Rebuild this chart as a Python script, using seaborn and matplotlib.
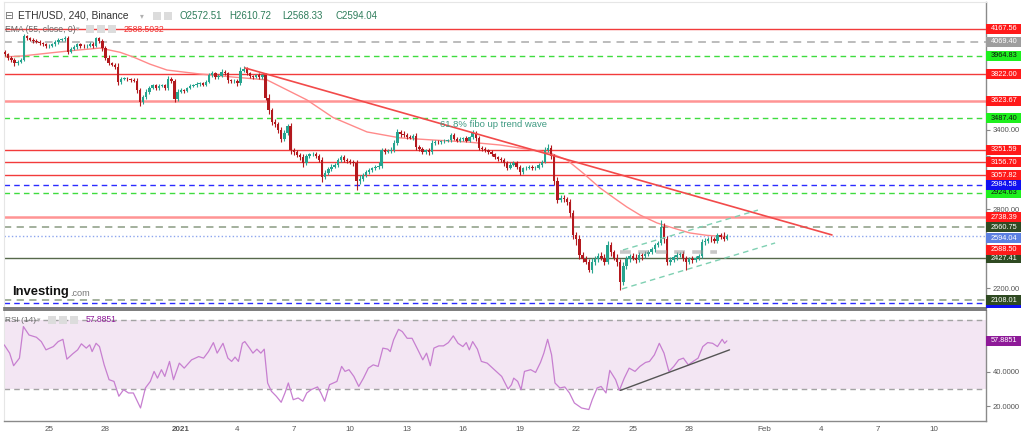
import matplotlib
matplotlib.use("Agg")
import matplotlib.pyplot as plt
from matplotlib.patches import Rectangle
import numpy as np
import seaborn as sns

# ---------------- data ----------------
# 4-hour ETH/USD candles, first candle = Dec 22 16:00 (day -2.333 relative to Dec 25 00:00)
first_candle_day = -2.3333
candle_step_day = 4 / 24
open_first = 3990
close_usd = [
    3975, 3950,                               # Dec 22
    3930, 3905, 3920, 3935, 4110, 4095,       # Dec 23
    4085, 4075, 4070, 4060, 4050, 4035,       # Dec 24
    4040, 4050, 4070, 4085, 4090, 4095,       # Dec 25
    3995, 4015, 4030, 4050, 4040, 4035,       # Dec 26
    4040, 4055, 4040, 4095, 4075, 4020,       # Dec 27
    3950, 3905, 3895, 3880, 3765, 3790,       # Dec 28
    3790, 3785, 3780, 3775, 3700, 3615,       # Dec 29
    3650, 3690, 3720, 3740, 3715, 3735,       # Dec 30
    3740, 3715, 3790, 3775, 3635, 3690,       # Dec 31
    3700, 3695, 3720, 3735, 3740, 3750,       # Jan 1
    3755, 3745, 3765, 3815, 3830, 3800,       # Jan 2
    3810, 3840, 3830, 3780, 3770, 3775,       # Jan 3
    3755, 3850, 3865, 3830, 3810, 3805,       # Jan 4
    3815, 3800, 3815, 3645, 3550, 3460,       # Jan 5
    3445, 3400, 3330, 3380, 3430, 3245,       # Jan 6
    3230, 3210, 3195, 3150, 3200, 3215,       # Jan 7
    3220, 3200, 3175, 3045, 3070, 3100,       # Jan 8
    3120, 3135, 3170, 3195, 3175, 3165,       # Jan 9
    3160, 3150, 3010, 3030, 3055, 3080,       # Jan 10
    3095, 3110, 3120, 3130, 3245, 3235,       # Jan 11
    3240, 3250, 3300, 3385, 3370, 3360,       # Jan 12
    3345, 3340, 3355, 3270, 3255, 3235,       # Jan 13
    3245, 3230, 3300, 3310, 3305, 3315,       # Jan 14
    3320, 3325, 3360, 3335, 3320, 3330,       # Jan 15
    3340, 3320, 3345, 3375, 3340, 3265,       # Jan 16
    3255, 3245, 3230, 3215, 3195, 3180,       # Jan 17
    3170, 3150, 3115, 3135, 3150, 3120,       # Jan 18
    3080, 3110, 3115, 3120, 3110, 3115,       # Jan 19
    3135, 3160, 3250, 3265, 3200, 3010,       # Jan 20
    2870, 2885, 2875, 2850, 2770, 2600,       # Jan 21
    2570, 2450, 2420, 2400, 2340, 2395,       # Jan 22
    2420, 2445, 2430, 2400, 2525, 2470,       # Jan 23
    2430, 2400, 2245, 2370, 2420, 2445,       # Jan 24
    2430, 2415, 2450, 2440, 2460, 2470,       # Jan 25
    2495, 2525, 2545, 2665, 2570, 2395,       # Jan 26
    2415, 2435, 2450, 2460, 2425, 2400,       # Jan 27
    2420, 2410, 2430, 2440, 2550, 2560,       # Jan 28
    2575, 2570, 2560, 2600, 2590, 2572.51,    # Jan 29
    2594.04,                                  # Jan 30
]
wick_up = [
    15, 12,
    12, 15, 10, 12, 20, 15,
    12, 10, 15, 12, 10, 12,
    10, 12, 15, 10, 12, 15,
    20, 15, 12, 10, 12, 10,
    12, 15, 10, 12, 10, 15,
    15, 20, 12, 10, 25, 15,
    10, 12, 10, 15, 20, 15,
    15, 20, 15, 12, 10, 15,
    12, 10, 20, 15, 15, 20,
    15, 12, 10, 12, 10, 15,
    10, 12, 15, 20, 15, 12,
    12, 20, 15, 12, 10, 15,
    15, 25, 20, 15, 12, 10,
    12, 15, 12, 15, 25, 20,
    20, 15, 25, 20, 15, 20,
    15, 20, 15, 20, 15, 12,
    15, 12, 15, 20, 25, 20,
    20, 15, 20, 15, 12, 15,
    12, 15, 20, 25, 20, 15,
    15, 12, 15, 25, 20, 15,
    15, 20, 25, 20, 15, 20,
    15, 20, 15, 20, 15, 12,
    12, 15, 25, 15, 12, 10,
    12, 10, 20, 15, 12, 15,
    10, 15, 12, 25, 15, 12,
    15, 12, 10, 15, 12, 10,
    12, 15, 12, 20, 15, 12,
    15, 12, 10, 12, 15, 10,
    12, 15, 20, 25, 20, 20,
    30, 25, 20, 15, 25, 20,
    25, 30, 20, 25, 20, 30,
    25, 20, 25, 30, 30, 25,
    20, 25, 20, 25, 20, 15,
    20, 25, 20, 15, 20, 15,
    15, 20, 15, 50, 30, 25,
    20, 15, 20, 15, 20, 15,
    15, 20, 15, 20, 25, 20,
    15, 20, 15, 20, 15, 38,
    16.68,
]
wick_down = [
    12, 15,
    15, 20, 12, 10, 10, 12,
    10, 12, 10, 15, 12, 10,
    12, 10, 12, 15, 10, 12,
    15, 12, 10, 12, 15, 12,
    12, 10, 15, 12, 15, 20,
    20, 15, 12, 15, 20, 15,
    12, 10, 15, 12, 20, 35,
    15, 12, 15, 10, 15, 12,
    12, 15, 12, 15, 20, 15,
    12, 15, 10, 12, 10, 12,
    15, 12, 10, 12, 15, 12,
    12, 10, 12, 20, 15, 12,
    20, 15, 12, 15, 12, 15,
    12, 15, 12, 20, 25, 20,
    20, 25, 20, 15, 20, 25,
    20, 15, 20, 30, 15, 12,
    15, 12, 20, 40, 20, 15,
    15, 12, 15, 12, 15, 12,
    15, 20, 65, 20, 15, 12,
    12, 15, 12, 15, 20, 15,
    12, 15, 20, 15, 20, 15,
    15, 12, 15, 20, 15, 20,
    15, 20, 15, 12, 15, 12,
    15, 12, 15, 12, 15, 12,
    12, 15, 12, 15, 20, 15,
    15, 12, 15, 12, 15, 15,
    15, 20, 20, 15, 12, 15,
    25, 15, 12, 15, 12, 15,
    12, 15, 12, 15, 20, 25,
    25, 20, 25, 20, 30, 30,
    40, 30, 25, 20, 20, 25,
    20, 25, 20, 25, 20, 25,
    20, 30, 60, 20, 25, 20,
    20, 25, 20, 25, 15, 20,
    15, 20, 15, 20, 25, 20,
    20, 15, 20, 15, 20, 60,
    15, 20, 15, 20, 15, 20,
    15, 20, 15, 20, 15, 15,
    4.18,
]

# EMA(55)
ema_day = [-2.33, -1.43, 0.05, 1.38, 2.71, 3.77, 4.46, 5.36, 6.27, 8.02, 9.77, 11.58,
           12.64, 13.70, 15.08, 16.89, 18.64, 20.39, 22.20, 23.95, 25.70, 26.61, 27.51,
           28.36, 29.26, 30.16, 30.69, 31.39, 32.29, 33.14, 34.04, 34.94, 36.00]
ema_usd = [3955, 3962, 3985, 4005, 4022, 3990, 3955, 3900, 3855, 3825, 3802, 3780,
           3704, 3628, 3495, 3385, 3340, 3324, 3309, 3286, 3248, 3225, 3172,
           3073, 2960, 2868, 2815, 2754, 2694, 2656, 2618, 2600, 2590]
ema_last = 2588.50
ema_legend = "2588.5032"

# RSI(14)
rsi_day = [-2.38, -2.09, -1.88, -1.57, -1.36, -1.06, -0.67, -0.41, -0.16, 0.23,
           0.49, 0.74, 0.95, 1.26, 1.52, 1.72, 1.98, 2.16, 2.29, 2.50,
           2.68, 2.93, 3.19, 3.45, 3.71, 3.96, 4.22, 4.48, 4.86, 5.12,
           5.38, 5.58, 5.76, 5.97, 6.15, 6.40, 6.61, 6.92, 7.18, 7.57,
           7.95, 8.21, 8.47, 8.73, 8.93, 9.24, 9.50, 9.70, 9.88, 10.06,
           10.27, 10.40, 10.65, 10.83, 11.04, 11.25, 11.43, 11.61, 11.81, 12.07,
           12.33, 12.53, 12.71, 12.97, 13.23, 13.48, 13.69, 13.92, 14.26, 14.44,
           14.64, 14.90, 15.29, 15.54, 15.72, 15.93, 16.19, 16.45, 16.70, 16.96,
           17.22, 17.48, 17.73, 17.99, 18.12, 18.30, 18.56, 18.76, 19.02, 19.28,
           19.59, 19.85, 20.05, 20.25, 20.44, 20.70, 20.95, 21.21, 21.47, 21.72,
           21.98, 22.16, 22.32, 22.50, 22.75, 22.96, 23.27, 23.65, 24.04, 24.38,
           24.56, 24.68, 24.89, 25.07, 25.25, 25.58, 25.84, 26.10, 26.28, 26.48,
           26.69, 26.87, 27.13, 27.39, 27.64, 27.90, 28.28, 28.67, 28.85, 29.11,
           29.32, 29.58, 29.78, 30.09, 30.29, 30.55, 30.81, 31.12, 31.38, 31.68,
           31.89, 32.15, 32.41, 32.66, 32.92, 33.18, 33.44, 33.69, 33.95, 34.21,
           34.47, 34.72, 34.98, 35.24, 35.50, 35.75, 35.88, 36.00]
rsi_val = [55.6, 50.8, 43.5, 47.9, 66.2, 61.3, 60.0, 57.5, 52.7, 54.6,
           57.5, 58.8, 47.3, 50.4, 52.7, 56.2, 53.7, 55.6, 51.7, 56.5,
           54.6, 44.0, 35.4, 34.4, 25.8, 29.6, 27.7, 27.7, 19.0, 30.6,
           34.4, 40.2, 36.3, 41.2, 37.3, 46.0, 35.4, 45.0, 42.1, 46.9,
           48.8, 47.9, 51.7, 56.9, 50.8, 56.5, 47.9, 46.0, 48.5, 46.0,
           56.5, 57.5, 53.7, 50.8, 53.1, 50.8, 53.1, 33.5, 28.7, 25.8,
           22.3, 27.7, 33.5, 23.8, 24.8, 22.9, 27.7, 29.6, 31.2, 27.7,
           22.9, 32.5, 34.4, 43.1, 40.2, 41.2, 37.3, 31.5, 36.3, 42.1,
           44.0, 43.1, 53.7, 53.1, 51.7, 58.5, 64.6, 63.3, 59.4, 59.4,
           52.7, 46.9, 50.8, 43.5, 53.7, 55.0, 55.0, 56.9, 60.8, 56.5,
           54.6, 56.9, 52.7, 57.5, 53.1, 46.0, 45.0, 41.2, 37.3, 30.0,
           32.5, 36.3, 34.4, 29.6, 40.2, 41.2, 39.6, 45.4, 50.8, 58.8,
           49.8, 33.5, 30.6, 31.2, 27.7, 21.9, 19.0, 18.1, 23.8, 30.6,
           31.5, 27.7, 40.8, 35.4, 29.2, 36.3, 42.1, 40.2, 43.1, 45.4,
           46.0, 49.8, 56.5, 50.8, 40.2, 43.1, 46.9, 47.9, 44.0, 46.0,
           47.9, 54.6, 56.9, 56.5, 54.6, 58.8, 56.5, 57.89]
rsi_last = 57.8851
rsi_trend_day = [30.35, 36.14]
rsi_trend_val = [29.2, 52.7]

# horizontal levels
level_prices = [4167.56, 4069.40, 3964.83, 3822.00, 3623.67, 3487.40, 3251.59, 3156.70,
                3057.82, 2984.58, 2924.63, 2738.39, 2660.75, 2594.04, 2427.41, 2108.01, 2088.00]
level_kinds = ["res", "grey", "fib", "res", "res_wide", "fib", "res", "res",
               "res", "blue", "fib", "res_wide", "olive_dash", "last", "olive", "olive_dash", "blue"]

# drawn lines
trend_day = [10.41, 41.58]
trend_usd = [3871, 2603]
chan_up_day = [30.48, 37.65]
chan_up_usd = [2489, 2792]
chan_lo_day = [30.43, 38.56]
chan_lo_usd = [2193, 2542]
mark_day = [30.32, 35.48]
mark_usd = [2473, 2473]
note_text = "61.8% fibo up trend wave"
note_day, note_usd = 20.76, 3440

price_ticks = [2200, 2400, 2600, 2800, 3000, 3200, 3400, 3600, 3800, 4000, 4200]
price_tick_shown = [2200, 2800, 3400]          # the others sit behind the price tags
rsi_ticks = [20, 40, 60]
rsi_tick_shown = [20, 40]
x_tick_day = [0, 3, 7, 10, 13, 16, 19, 22, 25, 28, 31, 34, 38, 41, 44, 47]
x_tick_text = ["25", "28", "2021", "4", "7", "10", "13", "16", "19", "22", "25", "28",
               "Feb", "4", "7", "10"]

header_pair = "ETH/USD, 240, Binance"
ohlc_text = ["O2572.51", "H2610.72", "L2568.33", "C2594.04"]

assert len(close_usd) == len(wick_up) == len(wick_down)
assert len(rsi_day) == len(rsi_val)

# ---------------- styling ----------------
sns.set_style("white")
plt.rcParams["font.family"] = ["Liberation Sans", "DejaVu Sans"]

UP = "#26a48f"
DOWN = "#b3191e"
DASH = (0, (4, 3))
styles = {
    "res":        dict(lc="#f23b3b", ls="-",  lw=1.0, fc="#ff1a1a", tc="white"),
    "res_wide":   dict(lc="#ff9494", ls="-",  lw=1.8, fc="#ff1a1a", tc="white"),
    "grey":       dict(lc="#bcbcbc", ls=DASH, lw=1.4, fc="#9e9e9e", tc="white"),
    "fib":        dict(lc="#3fdc3f", ls=DASH, lw=1.0, fc="#1ef01e", tc="#111111"),
    "blue":       dict(lc="#2b2bff", ls=DASH, lw=1.0, fc="#1010f0", tc="white"),
    "olive_dash": dict(lc="#9caa95", ls=DASH, lw=1.3, fc="#2f4a22", tc="white"),
    "olive":      dict(lc="#56694b", ls="-",  lw=1.0, fc="#2f4a22", tc="white"),
    "last":       dict(lc="#8ea6ee", ls=":",  lw=1.0, fc="#5b7fe0", tc="white"),
}
tag_nudge_px = {2594.04: -2}
ema_tag_nudge_px = -13

W, H = 1024, 434
fig = plt.figure(figsize=(W / 100, H / 100), dpi=100)
fig.patch.set_facecolor("white")


def fx(x):
    return x / W


def fy(y):
    return 1 - y / H


ax = fig.add_axes([fx(4), fy(308), fx(986) - fx(4), fy(2) - fy(308)])
axr = fig.add_axes([fx(4), fy(421), fx(986) - fx(4), fy(310) - fy(421)])

P_LO, P_HI = 2048.3, 4371.8
R_LO, R_HI = 11.45, 75.8
X_LO, X_HI = -2.39, 49.76
ax.set_xlim(X_LO, X_HI)
ax.set_ylim(P_LO, P_HI)
axr.set_xlim(X_LO, X_HI)
axr.set_ylim(R_LO, R_HI)
usd_per_px = (P_HI - P_LO) / 306.0
rsi_per_px = (R_HI - R_LO) / 111.0

# ---- horizontal levels
for p, k in zip(level_prices, level_kinds):
    s = styles[k]
    ax.axhline(p, color=s["lc"], ls=s["ls"], lw=s["lw"], zorder=1)

# ---- candles
n = len(close_usd)
t = first_candle_day + np.arange(n) * candle_step_day
c = np.array(close_usd, float)
o = np.concatenate([[open_first], c[:-1]])
hi = np.maximum(o, c) + np.array(wick_up, float)
lo = np.minimum(o, c) - np.array(wick_down, float)
up = c >= o
body_lo = np.minimum(o, c)
body_h = np.maximum(np.abs(c - o), 3.0)
bw = candle_step_day * 0.76
for m, col in ((up, UP), (~up, DOWN)):
    ax.vlines(t[m], lo[m], hi[m], color=col, lw=0.8, zorder=3)
    ax.bar(t[m], body_h[m], bottom=body_lo[m], width=bw, color=col, lw=0, zorder=4)

# ---- EMA and drawings
sns.lineplot(x=ema_day, y=ema_usd, ax=ax, color="#ff8a8a", lw=1.0, zorder=2.5,
             estimator=None, sort=False)
sns.lineplot(x=trend_day, y=trend_usd, ax=ax, color="#f24a4a", lw=1.2, zorder=5,
             estimator=None, sort=False)
sns.lineplot(x=chan_up_day, y=chan_up_usd, ax=ax, color="#7fd0b2", lw=1.0, zorder=5,
             estimator=None, sort=False).lines[-1].set_linestyle(DASH)
sns.lineplot(x=chan_lo_day, y=chan_lo_usd, ax=ax, color="#7fd0b2", lw=1.0, zorder=5,
             estimator=None, sort=False).lines[-1].set_linestyle(DASH)
ax.plot(mark_day, mark_usd, color="#9a9a9a", lw=2.6, alpha=0.55, ls=(0, (3, 2)), zorder=6)
ax.text(note_day, note_usd, note_text, fontsize=6.8, color="#3f9a82", ha="left",
        va="center", zorder=7)

# ---- price axis
ax.yaxis.tick_right()
ax.set_yticks(price_ticks)
ax.set_yticklabels([f"{v:.2f}" if v in price_tick_shown else "" for v in price_ticks])
ax.tick_params(axis="y", length=3, width=0.8, color="#888888", labelsize=5.5,
               labelcolor="#555555", pad=2)
ax.set_xticks([])
ax.set_xlabel("")
ax.set_ylabel("")
for side, col, lw in (("top", "#e6e6e6", 0.8), ("left", "#e6e6e6", 0.8),
                      ("right", "#8a8a8a", 1.0), ("bottom", "#666666", 1.2)):
    ax.spines[side].set_color(col)
    ax.spines[side].set_linewidth(lw)

ytr = ax.get_yaxis_transform()
TAG_W = 35 / 982


def tag(axis, trans, yv, txt, fc, tc, h, z):
    axis.add_patch(Rectangle((1.0005, yv - h / 2), TAG_W, h, transform=trans, facecolor=fc,
                             edgecolor="none", clip_on=False, zorder=z))
    axis.text(1.0005 + TAG_W / 2, yv, txt, transform=trans, ha="center", va="center",
              fontsize=5.3, color=tc, zorder=z + 0.5, clip_on=False)


tag_h = 10 * usd_per_px
order = sorted(range(len(level_prices)), key=lambda i: level_prices[i])
for rank, i in enumerate(order):
    p = level_prices[i]
    s = styles[level_kinds[i]]
    yv = p + tag_nudge_px.get(p, 0) * usd_per_px
    txt = f"{p:.2f}" if rank > 0 else ""     # lowest blue tag is hidden under 2108.01
    tag(ax, ytr, yv, txt, s["fc"], s["tc"], tag_h, 20 + rank)
tag(ax, ytr, ema_last + ema_tag_nudge_px * usd_per_px, f"{ema_last:.2f}", "#ff1a1a", "white",
    tag_h, 60)

# ---- RSI panel
axr.axhspan(30, 70, color="#f3e6f3", zorder=0, lw=0)
axr.axhline(70, color="#a3a3a3", ls=DASH, lw=1.0, zorder=1)
axr.axhline(30, color="#a3a3a3", ls=DASH, lw=1.0, zorder=1)
sns.lineplot(x=rsi_day, y=rsi_val, ax=axr, color="#c77fd0", lw=0.9, zorder=3,
             estimator=None, sort=False)
sns.lineplot(x=rsi_trend_day, y=rsi_trend_val, ax=axr, color="#555555", lw=1.0, zorder=4,
             estimator=None, sort=False)
axr.yaxis.tick_right()
axr.set_yticks(rsi_ticks)
axr.set_yticklabels([f"{v:.4f}" if v in rsi_tick_shown else "" for v in rsi_ticks])
axr.tick_params(axis="y", length=3, width=0.8, color="#888888", labelsize=5.5,
                labelcolor="#555555", pad=2)
axr.set_xticks(x_tick_day)
axr.set_xticklabels(x_tick_text)
axr.tick_params(axis="x", length=2, width=0.8, color="#999999", labelsize=5.8,
                labelcolor="#555555", pad=1.5)
for lab in axr.get_xticklabels():
    if lab.get_text() == "2021":
        lab.set_fontweight("bold")
axr.set_xlabel("")
axr.set_ylabel("")
for side, col, lw in (("top", "#666666", 1.2), ("left", "#e6e6e6", 0.8),
                      ("right", "#8a8a8a", 1.0), ("bottom", "#8a8a8a", 1.0)):
    axr.spines[side].set_color(col)
    axr.spines[side].set_linewidth(lw)
rtr = axr.get_yaxis_transform()
tag(axr, rtr, rsi_last, f"{rsi_last:.4f}", "#8e1a98", "white", 10 * rsi_per_px, 20)

# ---- header / legends (figure text)
def icon_box(x, y):
    fig.add_artist(Rectangle((fx(x), fy(y + 4)), 8 / W, 8 / H, transform=fig.transFigure,
                             facecolor="#dcdcdc", edgecolor="none", zorder=30))


fig.text(fx(4), fy(16), "\u229f", fontsize=7.5, color="#666666", va="center",
         family=["DejaVu Sans"])
fig.text(fx(18), fy(16), header_pair, fontsize=7.4, color="#333333", va="center")
fig.text(fx(140), fy(16), "\u25be", fontsize=5.5, color="#b0b0b0", va="center",
         family=["DejaVu Sans"])
icon_box(153, 16)
icon_box(164, 16)
for xpx, s in zip([179, 229, 282, 335], ohlc_text):
    fig.text(fx(xpx), fy(16), s, fontsize=7.0, color="#2e7d5b", va="center")

fig.text(fx(5), fy(29), "EMA (55, close, 0)", fontsize=6.2, color="#666666", va="center")
fig.text(fx(76), fy(29), "\u25be", fontsize=5, color="#b0b0b0", va="center",
         family=["DejaVu Sans"])
icon_box(86, 29)
icon_box(97, 29)
icon_box(108, 29)
fig.text(fx(124), fy(29), ema_legend, fontsize=6.2, color="#f03030", va="center")

fig.text(fx(12), fy(292), "Investing", fontsize=9.4, fontweight="bold", color="#111111",
         va="center")
fig.text(fx(70), fy(293.5), ".com", fontsize=6.6, color="#777777", va="center")

fig.text(fx(5), fy(320), "RSI (14)", fontsize=6.0, color="#666666", va="center")
fig.text(fx(37), fy(320), "\u25be", fontsize=5, color="#b0b0b0", va="center",
         family=["DejaVu Sans"])
icon_box(48, 320)
icon_box(59, 320)
icon_box(70, 320)
fig.text(fx(86), fy(320), f"{rsi_last:.4f}", fontsize=6.2, color="#8e1a98", va="center")

fig.savefig("out.png", dpi=100, facecolor="white")
